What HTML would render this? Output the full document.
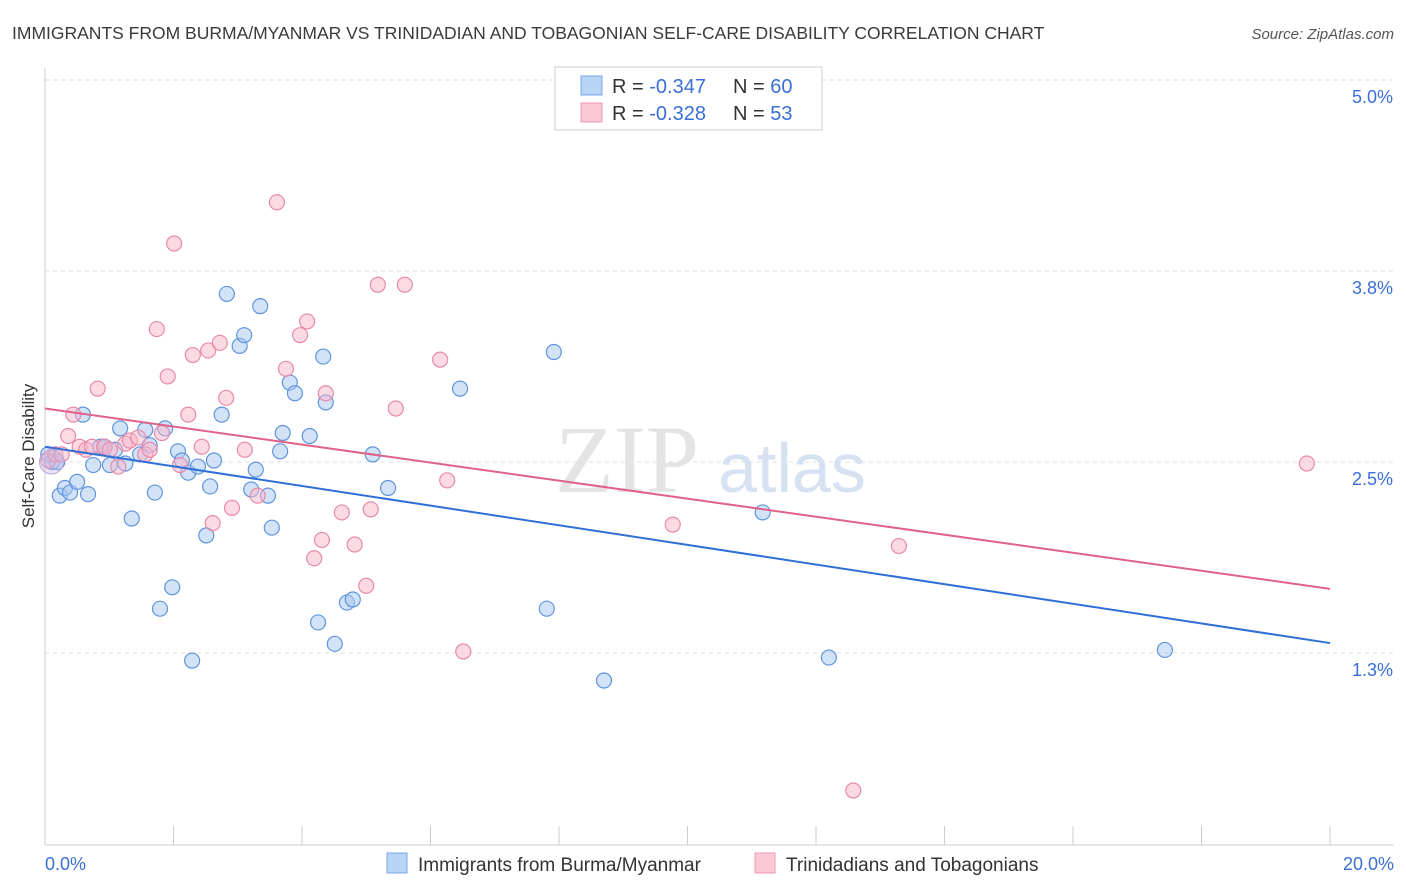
<!DOCTYPE html>
<html><head><meta charset="utf-8"><style>
body{margin:0;background:#fff;font-family:"Liberation Sans",sans-serif;}
svg{display:block}
</style></head><body>
<svg id="chart" width="1406" height="892">
<text x="12" y="39" font-size="17.5" fill="#3a3a3a">IMMIGRANTS FROM BURMA/MYANMAR VS TRINIDADIAN AND TOBAGONIAN SELF-CARE DISABILITY CORRELATION CHART</text>
<text x="1394" y="39" font-size="15" fill="#555" font-style="italic" text-anchor="end">Source: ZipAtlas.com</text>
<g id="grid"></g>
<g id="axes"></g>
<text x="555" y="492" font-size="96" fill="#e4e4e4" font-family="Liberation Serif,serif">ZIP</text>
<text x="718" y="492" font-size="70" fill="#d6e2f2">atlas</text>
<g id="pts"></g>
<g id="lines"></g>
<text x="34" y="456" font-size="17" fill="#333" text-anchor="middle" transform="rotate(-90 34 456)">Self-Care Disability</text>
<g>
<rect x="555" y="67" width="267" height="63" fill="#fff" stroke="#ccc"/>
<rect x="581" y="76" width="21" height="19" fill="#b8d3f4" stroke="#7aa8e6"/>
<rect x="581" y="103" width="21" height="19" fill="#fbc8d6" stroke="#ee9ab4"/>
<text x="612" y="93" font-size="20" fill="#333">R = <tspan fill="#3a6fd8">-0.347</tspan><tspan x="733">N = </tspan><tspan fill="#3a6fd8">60</tspan></text>
<text x="612" y="120" font-size="20" fill="#333">R = <tspan fill="#3a6fd8">-0.328</tspan><tspan x="733">N = </tspan><tspan fill="#3a6fd8"> 53</tspan></text>
</g>
<g>
<rect x="387" y="853" width="20" height="20" fill="#b8d3f4" stroke="#7aa8e6"/>
<text x="418" y="871" font-size="19" fill="#333">Immigrants from Burma/Myanmar</text>
<rect x="755" y="853" width="20" height="20" fill="#fbc8d6" stroke="#ee9ab4"/>
<text x="786" y="871" font-size="19" fill="#333">Trinidadians and Tobagonians</text>
</g>
</svg>
<script>
const yTicks=[5.0,3.75,2.5,1.25];
const yTickLabels=["5.0%","3.8%","2.5%","1.3%"];
const xTicks=[0,2,4,6,8,10,12,14,16,18,20];
const xTickLabels=["0.0%","20.0%"];
const blueX=[.05,.11,.19,.23,.31,.39,.50,.59,.67,.75,.86,.93,1.01,1.09,1.17,1.25,1.35,1.48,1.56,1.63,1.71,1.79,1.87,1.98,2.07,2.13,2.23,2.29,2.38,2.51,2.57,2.63,2.75,2.83,3.03,3.10,3.21,3.28,3.35,3.47,3.53,3.66,3.70,3.81,3.89,4.12,4.25,4.33,4.37,4.51,4.70,4.79,5.10,5.34,6.46,7.81,7.92,8.70,11.17,12.20,17.43];
const blueY=[2.55,2.50,2.50,2.28,2.33,2.30,2.37,2.81,2.29,2.48,2.60,2.60,2.48,2.58,2.72,2.49,2.13,2.55,2.71,2.61,2.30,1.54,2.72,1.68,2.57,2.51,2.43,1.20,2.47,2.02,2.34,2.51,2.81,3.60,3.26,3.33,2.32,2.45,3.52,2.28,2.07,2.57,2.69,3.02,2.95,2.67,1.45,3.19,2.89,1.31,1.58,1.60,2.55,2.33,2.98,1.54,3.22,1.07,2.17,1.22,1.27];
const pinkX=[.05,.16,.26,.36,.44,.54,.64,.73,.82,.92,1.01,1.14,1.25,1.32,1.45,1.56,1.63,1.74,1.82,1.91,2.01,2.10,2.23,2.30,2.44,2.54,2.61,2.72,2.82,2.91,3.11,3.31,3.61,3.75,3.97,4.08,4.19,4.31,4.37,4.62,4.82,5.00,5.07,5.18,5.46,5.60,6.15,6.26,6.51,9.77,12.58,13.29,19.64];
const pinkY=[2.51,2.55,2.55,2.67,2.81,2.60,2.58,2.60,2.98,2.60,2.58,2.47,2.62,2.64,2.66,2.55,2.58,3.37,2.69,3.06,3.93,2.48,2.81,3.20,2.60,3.23,2.10,3.28,2.92,2.20,2.58,2.28,4.20,3.11,3.33,3.42,1.87,1.99,2.95,2.17,1.96,1.69,2.19,3.66,2.85,3.66,3.17,2.38,1.26,2.09,0.35,1.95,2.49];
const blueTrend=[2.60,1.315];
const pinkTrend=[2.85,1.67];
const X=v=>45+v/20*1285, Y=v=>80+(5-v)/1.25*191;
const NS="http://www.w3.org/2000/svg";
function mk(p,t,a){const e=document.createElementNS(NS,t);for(const k in a)e.setAttribute(k,a[k]);p.appendChild(e);return e;}
const grid=document.getElementById('grid'),axes=document.getElementById('axes'),pts=document.getElementById('pts'),lines=document.getElementById('lines');
yTicks.forEach((t,i)=>{
 const l=mk(grid,'line',{x1:45,x2:1394,y1:Y(t),y2:Y(t),stroke:'#ddd','stroke-dasharray':'4,4'});
 
 
 const tx=mk(axes,'text',{x:1393,y:Y(t)+23,'font-size':18,fill:'#3a6fd8','text-anchor':'end'});tx.textContent=yTickLabels[i];
 
 
});
const ax=mk(axes,'line',{x1:45,x2:1394,y1:845,y2:845,stroke:'#ccc'});


const ay=mk(axes,'line',{x1:45,x2:45,y1:68,y2:845,stroke:'#ccc'});


xTicks.forEach(t=>{const k=mk(axes,'line',{x1:X(t),x2:X(t),y1:826,y2:845,stroke:'#ccc'});
 
 });
[[0,'start',45],[1,'end',1394]].forEach(([i,a,x])=>{const t=mk(axes,'text',{x:x,y:870,'font-size':18,fill:'#3a6fd8','text-anchor':a});t.textContent=xTickLabels[i];
 
 });
function series(xs,ys,fill,stroke,name){xs.forEach((x,i)=>{const c=mk(pts,'circle',{cx:X(x),cy:Y(ys[i]),r:7.5,fill:fill,'fill-opacity':0.5,stroke:stroke,'stroke-width':1.2});
 
 });}
series(blueX,blueY,'#a8c8f0','#5f94df','blue-point');
series(pinkX,pinkY,'#f7b6ca','#e88aa8','pink-point');
const big=mk(pts,'circle',{cx:X(0.1),cy:Y(2.5),r:12,fill:'#c9b8e0','fill-opacity':0.4,stroke:'#b8a8d8'});


const bl=mk(lines,'line',{x1:X(0),y1:Y(blueTrend[0]),x2:X(20),y2:Y(blueTrend[1]),stroke:'#2f6fd6','stroke-width':2});


const pl=mk(lines,'line',{x1:X(0),y1:Y(pinkTrend[0]),x2:X(20),y2:Y(pinkTrend[1]),stroke:'#e0628a','stroke-width':2});


</script>
</body></html>
